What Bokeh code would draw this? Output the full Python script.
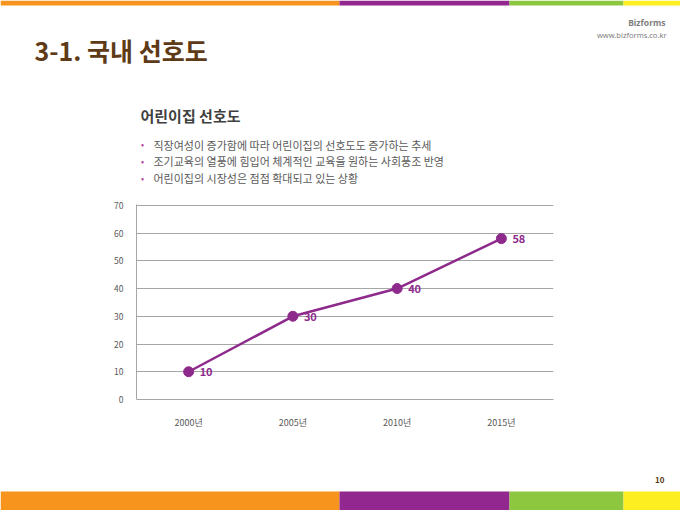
from bokeh.plotting import figure
from bokeh.layouts import column
from bokeh.models import Range1d, FactorRange, FixedTicker, ColumnDataSource
from bokeh.embed import file_html
from bokeh.resources import INLINE
from bokeh.core.properties import value

# ---- data ----
years = ["2000년", "2005년", "2010년", "2015년"]
preference = [10, 30, 40, 58]
y_ticks = [0, 10, 20, 30, 40, 50, 60, 70]

slide_title = "3-1. 국내 선호도"
chart_title = "어린이집 선호도"
bullets = [
    "직장여성이 증가함에 따라 어린이집의 선호도도 증가하는 추세",
    "조기교육의 열풍에 힘입어 체계적인 교육을 원하는 사회풍조 반영",
    "어린이집의 시장성은 점점 확대되고 있는 상황",
]
brand = "Bizforms"
site = "www.bizforms.co.kr"
page_no = "10"
bar_colors = ["#F7941D", "#92278F", "#8DC63F", "#FCEE21"]

FONT = "Noto Sans CJK KR"
LATIN = "Noto Sans"
PURPLE = "#8E2A8C"
BROWN = "#5E3B16"
W = 680
Y_HEAD, Y_CHART, Y_END = 198, 450, 510
bar_edges = [0, 339, 509, 623, 680]


def canvas(y0, y1):
    f = figure(width=W, height=y1 - y0, x_range=Range1d(0, W), y_range=Range1d(y1, y0),
               output_backend="svg", toolbar_location=None,
               x_axis_location=None, y_axis_location=None,
               min_border=0, min_border_left=0, min_border_right=0,
               min_border_top=0, min_border_bottom=0, frame_align=False)
    f.grid.visible = False
    f.outline_line_color = None
    f.background_fill_color = "white"
    f.border_fill_color = "white"
    return f


def txt(f, x, y, s, size, color, style="normal", align="left", baseline="middle", font=FONT):
    f.text(x=[x], y=[y], text=[s], text_font=value(font), text_font_size=size,
           text_color=color, text_font_style=style, text_align=align,
           text_baseline=baseline)


def bars(f, y0, y1):
    f.quad(left=bar_edges[:-1], right=bar_edges[1:], top=[y0] * 4, bottom=[y1] * 4,
           fill_color=bar_colors, line_color=None)


# ---- header ----
head = canvas(0, Y_HEAD)
bars(head, 0, 5)
txt(head, 34, 49, slide_title, "25px", BROWN, "bold", baseline="alphabetic")
txt(head, 665, 22, brand, "8.5px", "#7F7F7F", "bold", align="right", font=LATIN)
txt(head, 666, 34, site, "7.5px", "#7F7F7F", align="right", font=LATIN)
txt(head, 140, 115, chart_title, "15px", "#404040", "bold")
for i, b in enumerate(bullets):
    cy = 144 + i * 16.8
    txt(head, 142, cy, "•", "9px", "#B5479B", align="center")
    txt(head, 153, cy, b, "11px", "#595959")

# ---- chart ----
FL, FR, FT, FB = 136, 553, 204, 399
p = figure(width=W, height=Y_CHART - Y_HEAD,
           x_range=FactorRange(*years, range_padding=0),
           y_range=Range1d(0, 70.3),
           output_backend="svg", toolbar_location=None,
           min_border_left=FL, min_border_right=W - FR,
           min_border_top=FT - Y_HEAD, min_border_bottom=Y_CHART - FB,
           frame_align=False)
p.outline_line_color = None
p.background_fill_color = "white"
p.border_fill_color = "white"
p.yaxis.ticker = FixedTicker(ticks=y_ticks)
p.yaxis.major_tick_line_color = None
p.yaxis.minor_tick_line_color = None
p.yaxis.axis_line_color = "#A6A6A6"
p.yaxis.major_label_text_font = FONT
p.yaxis.major_label_text_font_size = "8.5px"
p.yaxis.major_label_text_color = "#595959"
p.yaxis.major_label_standoff = 7
p.xaxis.major_tick_line_color = None
p.xaxis.axis_line_color = "#A6A6A6"
p.xaxis.major_label_text_font = FONT
p.xaxis.major_label_text_font_size = "9px"
p.xaxis.major_label_text_color = "#595959"
p.xaxis.major_label_standoff = 10
p.xgrid.grid_line_color = None
p.ygrid.grid_line_color = "#A6A6A6"
p.ygrid.grid_line_width = 1

src = ColumnDataSource(dict(x=years, y=preference, t=[str(v) for v in preference]))
p.line("x", "y", source=src, line_color=PURPLE, line_width=2.5)
p.scatter("x", "y", source=src, size=10, fill_color=PURPLE, line_color=PURPLE)
p.text("x", "y", text="t", source=src, x_offset=11, text_baseline="middle",
       text_align="left", text_font=value(FONT), text_font_size="11px",
       text_font_style="bold", text_color=PURPLE)

# ---- footer ----
foot = canvas(Y_CHART, Y_END)
txt(foot, 664, 479, page_no, "8px", BROWN, "bold", align="right")
bars(foot, 491, 510)

layout = column(head, p, foot, spacing=0)
open("out.html", "w").write(file_html(layout, INLINE))
